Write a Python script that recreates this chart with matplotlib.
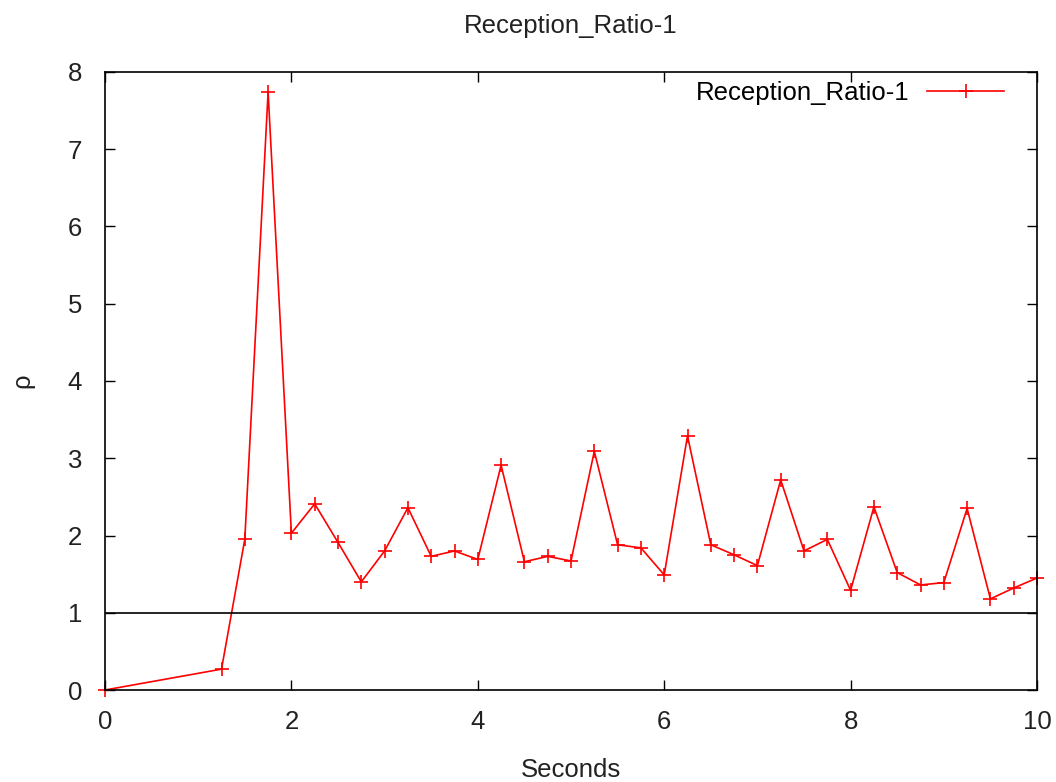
import matplotlib
matplotlib.use("Agg")
import matplotlib.pyplot as plt

# data
seconds = [0, 1.25, 1.5, 1.75, 2, 2.25, 2.5, 2.75, 3, 3.25, 3.5, 3.75, 4,
           4.25, 4.5, 4.75, 5, 5.25, 5.5, 5.75, 6, 6.25, 6.5, 6.75, 7,
           7.25, 7.5, 7.75, 8, 8.25, 8.5, 8.75, 9, 9.25, 9.5, 9.75, 10]
ratio = [0, 0.27, 1.95, 7.74, 2.03, 2.41, 1.91, 1.40, 1.80, 2.36, 1.73, 1.80, 1.69,
         2.91, 1.66, 1.73, 1.67, 3.09, 1.88, 1.84, 1.49, 3.29, 1.88, 1.75, 1.61,
         2.72, 1.80, 1.95, 1.29, 2.37, 1.52, 1.36, 1.39, 2.35, 1.18, 1.32, 1.45]
series_name = "Reception_Ratio-1"
x_ticks = [0, 2, 4, 6, 8, 10]
y_ticks = [0, 1, 2, 3, 4, 5, 6, 7, 8]

plt.rcParams['font.family'] = ['Liberation Sans', 'DejaVu Sans']
fs = 18.5

fig = plt.figure(figsize=(10.56, 7.82), dpi=100)
ax = fig.add_axes([105 / 1056, 1 - 690 / 782, (1037 - 105) / 1056, (690 - 72) / 782])

ax.plot(seconds, ratio, color='red', linewidth=1.2, marker='+',
        markersize=10, markeredgewidth=1.2, label=series_name, clip_on=False)
ax.axhline(1, color='black', linewidth=1.2)

ax.set_xlim(0, 10)
ax.set_ylim(0, 8)
ax.set_xticks(x_ticks)
ax.set_yticks(y_ticks)
ax.tick_params(direction='in', length=7, width=1, top=True, right=True,
               labelsize=fs, colors='black', labelcolor='#222222')
ax.tick_params(axis='x', pad=14.5)
ax.tick_params(axis='y', pad=16.5)
for s in ax.spines.values():
    s.set_linewidth(1.2)

ax.set_title(series_name, fontsize=fs, pad=28, color='#222222')
ax.set_xlabel("Seconds", fontsize=fs, labelpad=17, color='#222222')
ax.set_ylabel("\u03c1", fontsize=fs, labelpad=24, color='#222222', rotation=90)

ax.legend(loc='upper right', frameon=False, markerfirst=False, fontsize=fs,
          handlelength=3.0, handletextpad=0.7, borderaxespad=0.25,
          bbox_to_anchor=(0.983, 1.012))

fig.savefig("out.png", dpi=100)
